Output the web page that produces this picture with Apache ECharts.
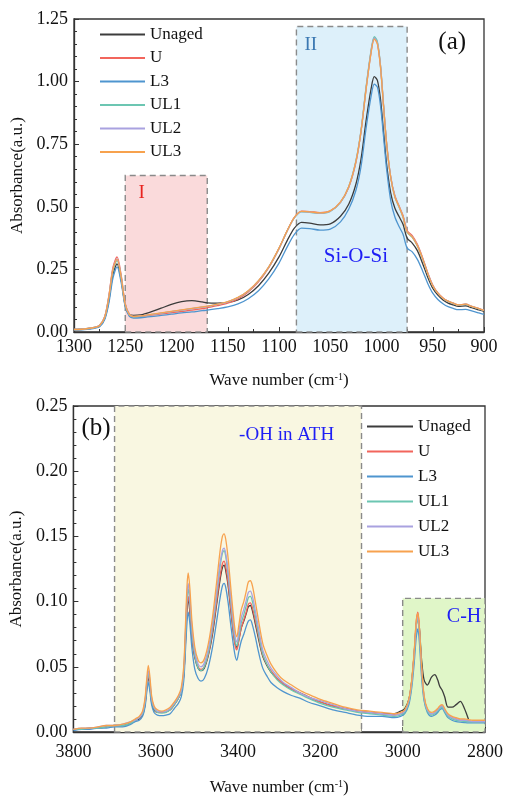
<!DOCTYPE html>
<html>
<head>
<meta charset="utf-8">
<script src="https://cdn.jsdelivr.net/npm/echarts@6/dist/echarts.min.js"></script>
<style>
html,body{margin:0;padding:0;background:#fff;}
#chart{width:506px;height:797px;}
</style>
</head>
<body>
<div id="chart"></div>
<script>
// ---------- DATA ----------
const seriesNames = ['Unaged', 'U', 'L3', 'UL1', 'UL2', 'UL3'];

// Panel (a): 1300-900 cm-1
const wnA = [1300,1290,1280,1275,1270,1266,1262,1258,1254,1250,
  1246,1242,1235,1225,1215,1205,1195,1185,1175,1170,
  1160,1150,1140,1130,1120,1110,1100,1092,1085,1078,
  1070,1060,1050,1040,1032,1025,1020,1015,1010,1007,
  1004,1001,998,995,991,987,983,979,975,970,
  965,960,955,950,945,940,935,930,925,918,
  912,905,900];
const unagedA = [0.010,0.012,0.017,0.024,0.055,0.125,0.230,0.272,0.208,0.105,
  0.070,0.066,0.068,0.080,0.095,0.110,0.121,0.125,0.120,0.116,
  0.115,0.118,0.128,0.150,0.185,0.235,0.300,0.365,0.415,0.438,
  0.435,0.428,0.432,0.462,0.510,0.590,0.690,0.845,0.975,1.020,
  1.005,0.930,0.800,0.670,0.555,0.495,0.462,0.430,0.375,0.355,
  0.325,0.275,0.220,0.175,0.147,0.128,0.115,0.108,0.102,0.104,
  0.097,0.088,0.082];
const uA = [0.010,0.012,0.018,0.027,0.062,0.145,0.258,0.300,0.228,0.113,
  0.070,0.061,0.062,0.067,0.072,0.077,0.082,0.087,0.093,0.097,
  0.105,0.115,0.132,0.160,0.200,0.257,0.333,0.404,0.458,0.483,
  0.481,0.477,0.484,0.518,0.577,0.676,0.800,0.975,1.125,1.175,
  1.155,1.065,0.905,0.755,0.620,0.545,0.505,0.465,0.405,0.385,
  0.350,0.298,0.238,0.188,0.156,0.136,0.123,0.115,0.108,0.111,
  0.102,0.093,0.086];
const l3A = [0.008,0.010,0.015,0.021,0.050,0.115,0.215,0.260,0.198,0.100,
  0.062,0.056,0.057,0.061,0.066,0.071,0.076,0.080,0.085,0.087,
  0.093,0.100,0.112,0.133,0.165,0.212,0.275,0.340,0.390,0.415,
  0.413,0.407,0.411,0.440,0.490,0.565,0.660,0.815,0.945,0.990,
  0.978,0.905,0.780,0.650,0.525,0.460,0.422,0.390,0.335,0.320,
  0.290,0.245,0.195,0.155,0.130,0.113,0.101,0.094,0.089,0.090,
  0.084,0.076,0.070];
const ul1A = [0.010,0.012,0.018,0.026,0.059,0.138,0.245,0.285,0.217,0.109,
  0.069,0.061,0.063,0.069,0.075,0.081,0.087,0.093,0.099,0.102,
  0.110,0.120,0.137,0.164,0.204,0.259,0.334,0.404,0.456,0.480,
  0.478,0.474,0.482,0.518,0.580,0.683,0.805,0.980,1.130,1.180,
  1.160,1.065,0.905,0.752,0.617,0.540,0.500,0.458,0.398,0.378,
  0.343,0.293,0.233,0.184,0.154,0.134,0.122,0.114,0.107,0.110,
  0.101,0.092,0.085];
const ul2A = [0.010,0.012,0.018,0.026,0.060,0.141,0.252,0.292,0.222,0.111,
  0.070,0.062,0.064,0.069,0.075,0.081,0.087,0.093,0.099,0.102,
  0.110,0.120,0.137,0.164,0.204,0.259,0.334,0.404,0.457,0.481,
  0.479,0.475,0.483,0.519,0.579,0.680,0.800,0.972,1.122,1.174,
  1.153,1.060,0.902,0.752,0.618,0.542,0.502,0.461,0.401,0.381,
  0.346,0.296,0.236,0.186,0.155,0.135,0.123,0.115,0.108,0.111,
  0.102,0.093,0.086];
const ul3A = [0.010,0.012,0.018,0.026,0.060,0.140,0.250,0.290,0.220,0.110,
  0.070,0.062,0.064,0.070,0.076,0.082,0.088,0.094,0.100,0.103,
  0.111,0.121,0.138,0.165,0.205,0.260,0.335,0.405,0.458,0.482,
  0.480,0.476,0.484,0.520,0.580,0.680,0.800,0.970,1.120,1.170,
  1.150,1.058,0.900,0.750,0.617,0.540,0.502,0.460,0.400,0.380,
  0.345,0.295,0.235,0.185,0.155,0.135,0.123,0.115,0.108,0.111,
  0.102,0.093,0.086];

// Panel (b): 3800-2800 cm-1
const wnB = [3800,3780,3760,3740,3720,3700,3680,3660,3650,3640,
  3632,3626,3622,3618,3614,3610,3604,3596,3585,3575,
  3565,3555,3545,3538,3532,3528,3524,3521,3517,3512,
  3505,3497,3490,3482,3472,3462,3452,3444,3438,3434,
  3430,3424,3416,3408,3403,3398,3392,3386,3380,3375,
  3370,3365,3358,3350,3340,3330,3320,3305,3290,3270,
  3250,3230,3200,3170,3140,3110,3080,3050,3020,3005,
  2995,2985,2978,2972,2967,2963,2959,2954,2948,2940,
  2930,2922,2915,2910,2904,2898,2890,2880,2870,2860,
  2850,2840,2830,2815,2800];
const unagedB = [0.002,0.002,0.003,0.003,0.004,0.005,0.005,0.007,0.009,0.010,
  0.013,0.021,0.033,0.042,0.035,0.023,0.017,0.015,0.015,0.0155,
  0.017,0.021,0.026,0.031,0.043,0.067,0.094,0.102,0.092,0.072,
  0.057,0.049,0.047,0.049,0.059,0.075,0.098,0.116,0.126,0.128,
  0.124,0.112,0.089,0.069,0.065,0.071,0.080,0.085,0.091,0.096,
  0.097,0.093,0.083,0.071,0.058,0.051,0.046,0.041,0.037,0.033,
  0.030,0.027,0.023,0.020,0.018,0.016,0.015,0.014,0.014,0.016,
  0.018,0.025,0.039,0.060,0.082,0.088,0.078,0.055,0.040,0.036,
  0.042,0.044,0.040,0.035,0.032,0.027,0.019,0.019,0.021,0.0235,
  0.018,0.0096,null,null,null];
const uB = [0.002,0.002,0.003,0.003,0.004,0.005,0.005,0.007,0.009,0.011,
  0.014,0.022,0.035,0.044,0.036,0.024,0.018,0.015,0.015,0.0155,
  0.017,0.021,0.026,0.031,0.044,0.069,0.096,0.104,0.094,0.073,
  0.058,0.050,0.048,0.050,0.060,0.077,0.100,0.119,0.129,0.131,
  0.127,0.114,0.090,0.068,0.063,0.070,0.080,0.086,0.092,0.098,
  0.099,0.095,0.085,0.073,0.059,0.052,0.047,0.041,0.037,0.033,
  0.030,0.027,0.023,0.020,0.018,0.016,0.015,0.014,0.013,0.014,
  0.016,0.024,0.039,0.061,0.085,0.092,0.078,0.049,0.027,0.017,
  0.014,0.015,0.017,0.019,0.020,0.017,0.013,0.011,0.010,0.009,
  0.009,0.0085,0.008,0.008,0.008];
const l3B = [0.001,0.002,0.002,0.003,0.003,0.004,0.004,0.006,0.008,0.009,
  0.012,0.019,0.030,0.038,0.031,0.021,0.015,0.013,0.0125,0.013,
  0.014,0.018,0.022,0.027,0.039,0.061,0.084,0.092,0.083,0.064,
  0.048,0.041,0.039,0.041,0.050,0.065,0.085,0.102,0.112,0.114,
  0.111,0.099,0.078,0.060,0.055,0.062,0.070,0.075,0.081,0.085,
  0.086,0.082,0.073,0.061,0.049,0.043,0.038,0.034,0.031,0.028,
  0.026,0.023,0.020,0.017,0.015,0.013,0.012,0.012,0.011,0.012,
  0.014,0.021,0.034,0.053,0.073,0.079,0.067,0.042,0.024,0.015,
  0.012,0.013,0.015,0.017,0.018,0.015,0.011,0.009,0.008,0.0075,
  0.0072,0.007,0.007,0.007,0.007];
const ul1B = [0.002,0.002,0.003,0.003,0.004,0.005,0.005,0.007,0.009,0.011,
  0.014,0.023,0.036,0.045,0.037,0.025,0.018,0.015,0.0145,0.015,
  0.017,0.021,0.026,0.031,0.045,0.072,0.101,0.110,0.099,0.077,
  0.059,0.049,0.047,0.050,0.061,0.080,0.105,0.126,0.137,0.139,
  0.135,0.120,0.095,0.072,0.066,0.073,0.084,0.090,0.097,0.103,
  0.104,0.100,0.089,0.075,0.060,0.052,0.046,0.040,0.036,0.032,
  0.029,0.026,0.022,0.019,0.017,0.015,0.014,0.013,0.012,0.013,
  0.015,0.023,0.037,0.059,0.081,0.088,0.075,0.047,0.026,0.016,
  0.013,0.014,0.016,0.018,0.019,0.016,0.012,0.010,0.009,0.0085,
  0.008,0.008,0.0078,0.0078,0.0078];
const ul2B = [0.002,0.003,0.003,0.004,0.005,0.005,0.006,0.008,0.009,0.011,
  0.015,0.024,0.037,0.047,0.039,0.026,0.019,0.016,0.0155,0.016,
  0.018,0.022,0.027,0.032,0.047,0.075,0.105,0.114,0.103,0.080,
  0.062,0.052,0.050,0.053,0.064,0.083,0.108,0.129,0.139,0.141,
  0.137,0.123,0.098,0.075,0.069,0.077,0.088,0.094,0.101,0.107,
  0.108,0.104,0.093,0.079,0.063,0.055,0.049,0.043,0.038,0.034,
  0.030,0.027,0.024,0.021,0.018,0.016,0.015,0.014,0.013,0.014,
  0.016,0.024,0.038,0.060,0.082,0.089,0.076,0.048,0.027,0.017,
  0.014,0.015,0.017,0.019,0.020,0.017,0.013,0.011,0.010,0.009,
  0.009,0.0085,0.008,0.008,0.008];
const ul3B = [0.002,0.003,0.003,0.004,0.005,0.005,0.006,0.008,0.010,0.012,
  0.016,0.026,0.040,0.051,0.042,0.028,0.020,0.017,0.016,0.017,
  0.019,0.023,0.028,0.034,0.050,0.080,0.112,0.122,0.110,0.085,
  0.065,0.055,0.053,0.056,0.068,0.088,0.115,0.138,0.150,0.152,
  0.148,0.133,0.105,0.080,0.073,0.082,0.094,0.100,0.108,0.115,
  0.116,0.112,0.100,0.085,0.068,0.059,0.052,0.045,0.040,0.036,
  0.032,0.029,0.025,0.022,0.019,0.017,0.016,0.015,0.014,0.015,
  0.017,0.025,0.040,0.062,0.085,0.091,0.078,0.050,0.028,0.018,
  0.015,0.016,0.018,0.020,0.021,0.018,0.014,0.012,0.011,0.010,
  0.010,0.0095,0.009,0.009,0.009];

const colors = ['#3c3c3c', '#f2655c', '#4f95cf', '#6cc6b2', '#a9a2e0', '#f7a24e'];
const panelA = [unagedA, uA, l3A, ul1A, ul2A, ul3A];
const panelB = [unagedB, uB, l3B, ul1B, ul2B, ul3B];

// ---------- CHART ----------
const FONT = '"Liberation Serif", "Times New Roman", serif';
const chart = echarts.init(document.getElementById('chart'), null, {renderer: 'canvas'});

function pairs(xs, ys) {
  const out = [];
  for (let i = 0; i < xs.length; i++) if (ys[i] != null) out.push([xs[i], ys[i]]);
  return out;
}

const axisCommon = {
  axisLine: {show: true, onZero: false, lineStyle: {color: '#333', width: 1.3}},
  axisTick: {show: true, inside: true, length: 5, lineStyle: {color: '#333', width: 1}},
  minorTick: {show: true, length: 3, lineStyle: {color: '#333', width: 1}},
  splitLine: {show: false},
  axisLabel: {color: '#111', fontFamily: FONT, fontSize: 18},
  nameTextStyle: {color: '#111', fontFamily: FONT, fontSize: 17,
    rich: {sup: {fontSize: 10, fontFamily: FONT, color: '#111', verticalAlign: 'top', lineHeight: 12}}}
};
function ax(extra) { return Object.assign({}, JSON.parse(JSON.stringify(axisCommon)), extra); }

const xA = ax({type: 'value', gridIndex: 0, min: 900, max: 1300, interval: 50, inverse: true,
  name: 'Wave number (cm{sup|-1})', nameLocation: 'middle', nameGap: 40});
xA.minorTick.splitNumber = 2; xA.axisLabel.margin = 6; xA.axisLabel.formatter = v => String(v);
const xB = ax({type: 'value', gridIndex: 1, min: 2800, max: 3800, interval: 200, inverse: true,
  name: 'Wave number (cm{sup|-1})', nameLocation: 'middle', nameGap: 47});
xB.minorTick.splitNumber = 2; xB.axisLabel.margin = 11; xB.axisLabel.formatter = v => String(v);
const yA = ax({type: 'value', gridIndex: 0, min: 0, max: 1.25, interval: 0.25,
  name: 'Absorbance(a.u.)', nameLocation: 'middle', nameGap: 39});
yA.minorTick.splitNumber = 5; yA.axisLabel.margin = 6;
yA.axisLabel.formatter = v => v.toFixed(2);
const yB = ax({type: 'value', gridIndex: 1, min: 0, max: 0.25, interval: 0.05,
  name: 'Absorbance(a.u.)', nameLocation: 'middle', nameGap: 46});
yB.minorTick.splitNumber = 5; yB.axisLabel.margin = 6;
yB.axisLabel.formatter = v => v.toFixed(2);

const dashBorder = {borderColor: '#8a8a8a', borderWidth: 1.4, borderType: [6, 4], opacity: 1};
function txt(coord, text, color, size) {
  return {coord: coord, value: text, symbol: 'circle', symbolSize: 0,
    label: {show: true, position: 'inside', formatter: text, color: color, fontSize: size, fontFamily: FONT}};
}

const series = [];
seriesNames.forEach((name, i) => {
  const sA = {name: name, type: 'line', xAxisIndex: 0, yAxisIndex: 0,
    data: pairs(wnA, panelA[i]), showSymbol: false, smooth: 0.3,
    lineStyle: {color: colors[i], width: 1.3}, itemStyle: {color: colors[i]}, z: 3 + i, silent: true};
  const sB = {name: name, type: 'line', xAxisIndex: 1, yAxisIndex: 1,
    data: pairs(wnB, panelB[i]), showSymbol: false, smooth: 0.3,
    lineStyle: {color: colors[i], width: 1.3}, itemStyle: {color: colors[i]}, z: 3 + i, silent: true};
  if (i === 0) {
    sA.markArea = {silent: true, z: 1, data: [
      [{xAxis: 1250, yAxis: 0, itemStyle: Object.assign({color: '#fadadb'}, dashBorder)}, {xAxis: 1170, yAxis: 0.625}],
      [{xAxis: 1083, yAxis: 0, itemStyle: Object.assign({color: '#ddf0fa'}, dashBorder)}, {xAxis: 975, yAxis: 1.22}]
    ]};
    sA.markPoint = {silent: true, z: 10, data: [
      txt([1234, 0.555], 'I', '#e8231f', 19),
      txt([1069, 1.146], 'II', '#3b78b2', 19),
      txt([1025, 0.30], 'Si-O-Si', '#1e1ef5', 21),
      txt([931, 1.158], '(a)', '#111', 25)
    ]};
    sB.markArea = {silent: true, z: 1, data: [
      [{xAxis: 3700, yAxis: 0, itemStyle: Object.assign({color: '#f9f7e1'}, dashBorder)}, {xAxis: 3100, yAxis: 0.25}],
      [{xAxis: 3000, yAxis: 0, itemStyle: Object.assign({color: '#e0f6c8'}, dashBorder)}, {xAxis: 2800, yAxis: 0.1025}]
    ]};
    sB.markPoint = {silent: true, z: 10, data: [
      txt([3745, 0.2326], '(b)', '#111', 25),
      txt([3282, 0.228], '-OH in ATH', '#1e1ef5', 19),
      txt([2851, 0.0886], 'C-H', '#1e1ef5', 20)
    ]};
  }
  series.push(sA, sB);
});

const legendCommon = {
  orient: 'vertical', icon: 'rect', itemHeight: 2, padding: 0,
  textStyle: {color: '#111', fontFamily: FONT, fontSize: 17},
  data: seriesNames, selectedMode: false
};

chart.setOption({
  backgroundColor: '#fff',
  animation: false,
  grid: [
    {left: 74, right: 22, top: 19, height: 313, show: true, borderColor: '#333', borderWidth: 1.3, backgroundColor: 'transparent'},
    {left: 70, right: 21, top: 406, height: 330, show: true, borderColor: '#333', borderWidth: 1.3, backgroundColor: 'transparent'}
  ],
  legend: [
    Object.assign({}, legendCommon, {left: 100, top: 26, itemGap: 6.5, itemWidth: 45}),
    Object.assign({}, legendCommon, {left: 367, top: 418, itemGap: 8, itemWidth: 46})
  ],
  xAxis: [xA, xB],
  yAxis: [yA, yB],
  series: series
});
</script>
</body>
</html>
